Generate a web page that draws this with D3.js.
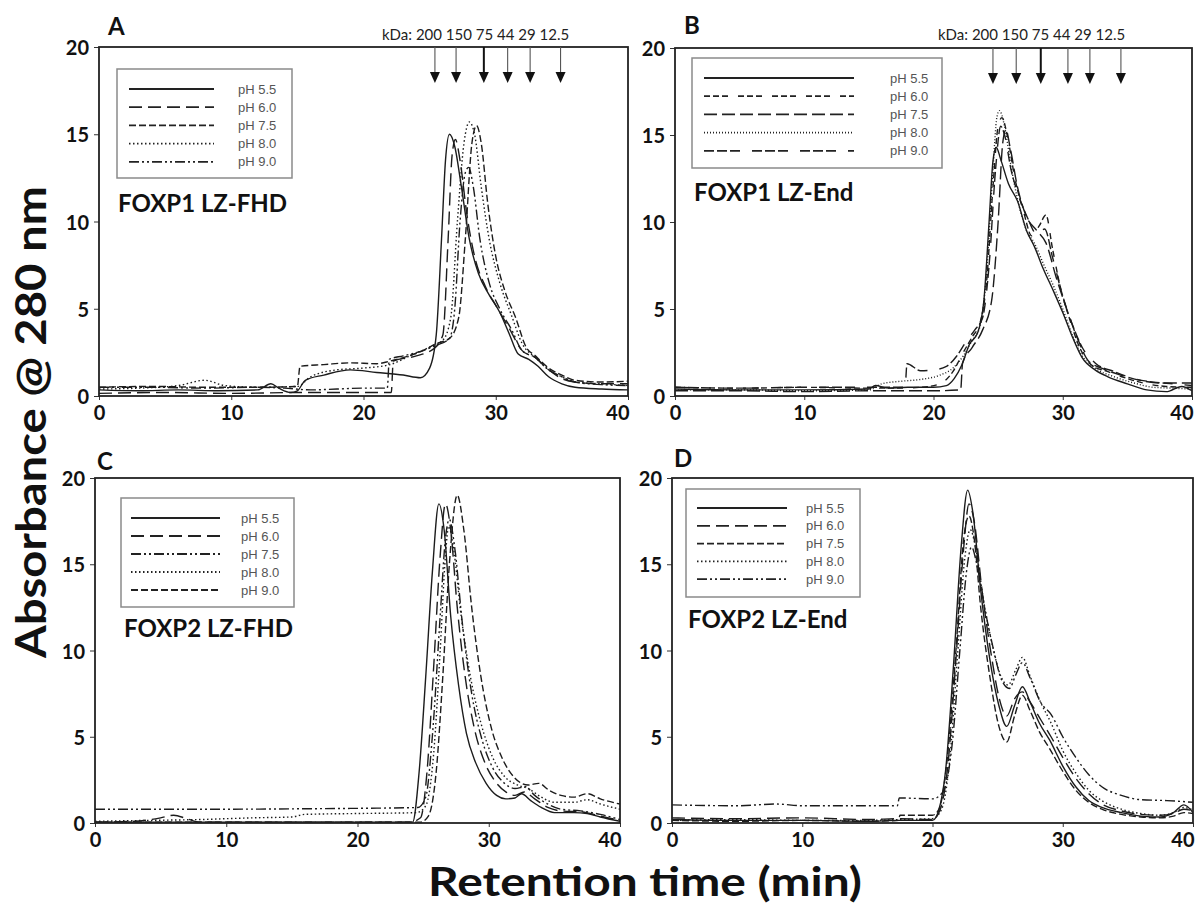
<!DOCTYPE html>
<html>
<head>
<meta charset="utf-8">
<script src="https://cdn.jsdelivr.net/npm/d3@7"></script>
<style>
  body { margin: 0; background: #fff; }
</style>
</head>
<body>
<div id="chart"></div>
<script>
// ---------- data ----------
const timeTicks = [0, 10, 20, 30, 40];
const absTicks = [0, 5, 10, 15, 20];
const phLabels = ["pH 5.5", "pH 6.0", "pH 7.5", "pH 8.0", "pH 9.0"];
const markerKDa = ["200", "150", "75", "44", "29", "12.5"];
const markerTimesA = [25.4, 27.0, 29.1, 30.9, 32.6, 34.9];
const markerTimesB = [24.6, 26.4, 28.3, 30.4, 32.1, 34.5];

// A: FOXP1 LZ-FHD  [time (min), A280]
const foxp1FhdPh55 = [[0,0.35],[3,0.3],[6,0.35],[9,0.3],[12,0.35],[13,0.7],[13.6,0.45],[14.5,0.2],[15,0.3],[15.6,0.9],[17,1.2],[19,1.5],[21,1.35],[23,1.2],[24.3,1.05],[25,1.6],[25.5,3.5],[25.9,9],[26.2,13.5],[26.5,15.0],[26.9,14.3],[27.4,12],[28,9],[28.7,7],[29.5,5.8],[30.3,4.8],[31,3.6],[31.7,2.4],[32.5,2.1],[33.2,1.7],[34,1.1],[35,0.7],[36,0.5],[38,0.4],[40,0.35]];
const foxp1FhdPh60 = [[0,0.15],[5,0.2],[10,0.15],[15,0.2],[20,0.2],[22.1,0.2],[22.25,2.0],[24,2.3],[25.3,2.7],[26.0,3.5],[26.4,9],[26.7,13.8],[26.95,14.7],[27.3,13.5],[27.8,10.5],[28.4,8],[29.2,6.3],[30,5.2],[31,3.9],[32,2.6],[33,2.2],[34,1.5],[35,1.0],[36,0.8],[38,0.7],[40,0.7]];
const foxp1FhdPh75 = [[0,0.5],[4,0.55],[8,0.5],[12,0.5],[15,0.55],[15.2,1.7],[17,1.8],[19,1.9],[21,1.85],[22,2.0],[23,2.2],[24.5,2.6],[25.5,3.0],[26.5,3.3],[27.2,4.5],[27.7,9],[28.2,14.5],[28.55,15.5],[28.9,14.5],[29.4,11],[30,8],[30.7,6],[31.5,4.5],[32.3,2.8],[33,2.3],[34,1.6],[35,1.2],[36,0.9],[38,0.8],[40,0.85]];
const foxp1FhdPh80 = [[0,0.4],[3,0.45],[6,0.6],[8,0.9],[9.5,0.6],[12,0.5],[15,0.55],[16,1.1],[18,1.5],[20,1.6],[22,1.8],[23.5,2.3],[25,2.8],[26,3.2],[26.6,4.5],[27.1,10],[27.6,14.5],[28,15.7],[28.4,15],[28.9,12],[29.5,9],[30.3,6.5],[31.2,4.6],[32,3.0],[33,2.2],[34,1.5],[35,1.1],[36,0.8],[38,0.7],[40,0.6]];
const foxp1FhdPh90 = [[0,0.5],[4,0.5],[8,0.45],[12,0.5],[14,0.45],[16,0.35],[18,0.4],[20,0.45],[21.8,0.45],[21.95,2.1],[23,2.3],[24.5,2.6],[25.5,2.9],[26.5,3.3],[26.9,5],[27.3,10],[27.7,12.8],[27.95,13.1],[28.3,12],[28.8,9],[29.5,6.5],[30.3,5],[31.2,3.8],[32,2.6],[33,2.2],[34,1.5],[35,1.1],[36,0.8],[38,0.65],[40,0.6]];

// B: FOXP1 LZ-End
const foxp1EndPh55 = [[0,0.4],[5,0.35],[10,0.35],[15,0.4],[15.5,0.6],[16.5,0.45],[18,0.5],[20,0.5],[21,0.6],[21.6,1.0],[22.2,1.8],[22.8,3.0],[23.4,3.6],[23.9,5.5],[24.3,10],[24.6,13.5],[24.85,14.3],[25.2,13.6],[25.8,12.2],[26.5,11.2],[27.2,9.5],[27.8,8.6],[28.5,7.3],[29.3,6],[30,4.8],[30.8,3.3],[31.5,2.2],[32.5,1.5],[33.5,1.1],[35,0.7],[36.5,0.35],[38,0.25],[39.2,0.55],[40,0.3]];
const foxp1EndPh60 = [[0,0.5],[5,0.45],[10,0.5],[15,0.45],[17,0.45],[19,0.5],[20.5,0.7],[21.5,1.4],[22.3,2.5],[23,3.4],[23.6,4.2],[24.1,6.5],[24.6,12],[25.0,15.5],[25.3,16.0],[25.7,15],[26.3,12.5],[27,10.5],[27.6,9.2],[28.2,9.8],[28.7,10.4],[29.2,8.5],[29.8,6.3],[30.5,4.5],[31.3,2.8],[32.2,1.8],[33.5,1.4],[35,1.0],[36.5,0.7],[38,0.55],[40,0.5]];
const foxp1EndPh75 = [[0,0.3],[5,0.3],[10,0.25],[15,0.3],[18,0.3],[20,0.3],[22.1,0.35],[22.25,1.9],[23,2.8],[23.8,3.8],[24.5,5.5],[25,10],[25.35,14.5],[25.6,15.3],[25.95,14.2],[26.5,12],[27.2,10.3],[28,9.5],[28.7,8.8],[29.5,6.8],[30.3,5],[31.2,3.2],[32,2.0],[33,1.6],[34.5,1.2],[36,0.9],[37.5,0.75],[40,0.75]];
const foxp1EndPh80 = [[0,0.35],[5,0.35],[10,0.3],[15,0.35],[16,0.7],[17.5,0.85],[19,0.95],[20.5,1.2],[21.5,1.6],[22.3,2.3],[23,3.2],[23.6,4.0],[24.1,7],[24.6,13],[24.9,16],[25.1,16.4],[25.5,15.5],[26,13.2],[26.6,11],[27.2,9.5],[27.8,8.8],[28.5,7.6],[29.3,6.3],[30,5],[30.8,3.4],[31.6,2.2],[32.5,1.6],[34,1.1],[35.5,0.75],[37,0.5],[38.5,0.45],[40,0.4]];
const foxp1EndPh90 = [[0,0.5],[5,0.45],[10,0.5],[15,0.5],[17.8,0.5],[17.95,1.85],[19,1.45],[20,1.5],[21,1.7],[21.8,2.3],[22.5,3.1],[23.2,3.8],[23.8,4.5],[24.3,7.5],[24.8,13],[25.2,15.5],[25.5,15],[26,13],[26.6,11.5],[27.3,10.2],[28,9.3],[28.6,9.6],[29.2,8],[29.9,6],[30.7,4.2],[31.5,2.8],[32.5,1.9],[34,1.4],[35.5,1.0],[37,0.8],[38.5,0.7],[40,0.6]];

// C: FOXP2 LZ-FHD
const foxp2FhdPh55 = [[0,0.05],[10,0.05],[20,0.05],[24.2,0.05],[24.7,3],[25.2,8.5],[25.7,14.5],[26.2,18.5],[26.6,17],[27.1,12],[27.7,8],[28.3,5.2],[29,3.5],[29.8,2.3],[30.6,1.6],[31.3,1.4],[32,1.45],[32.5,1.7],[33.2,1.3],[34,0.9],[35,0.6],[36.5,0.6],[37.5,0.55],[38.5,0.35],[40,0.1]];
const foxp2FhdPh60 = [[0,0.05],[3,0.1],[5,0.3],[6,0.45],[7,0.25],[8,0.05],[12,0.05],[18,0.05],[24,0.05],[24.8,0.3],[25.3,3],[25.8,9],[26.3,15.5],[26.7,18.5],[27.1,17],[27.6,12.5],[28.2,8.5],[28.9,5.5],[29.7,3.5],[30.5,2.4],[31.3,1.8],[32,1.6],[32.7,1.8],[33.5,1.4],[34.5,0.9],[35.5,0.7],[37,0.65],[38.5,0.4],[40,0.15]];
const foxp2FhdPh75 = [[0,0.8],[5,0.8],[10,0.8],[15,0.82],[20,0.85],[24.6,0.9],[25.2,1.5],[25.7,5],[26.3,12],[26.7,16.5],[27.0,17.6],[27.4,16],[28,11.5],[28.7,7.5],[29.5,4.8],[30.3,3.2],[31.2,2.3],[32,2.0],[32.8,2.1],[33.5,1.6],[34.5,1.1],[35.5,0.8],[37,0.7],[38.5,0.5],[40,0.2]];
const foxp2FhdPh80 = [[0,0.1],[4,0.15],[8,0.2],[12,0.3],[15,0.35],[16,0.5],[20,0.55],[24.5,0.6],[25.2,1.0],[25.8,4],[26.3,10],[26.7,15.5],[26.95,17.2],[27.3,16],[27.9,12],[28.6,8.5],[29.4,5.8],[30.3,3.8],[31.2,2.7],[32.2,2.2],[33,2.0],[34,1.5],[35,1.2],[36.5,1.2],[37.5,1.35],[38.5,1.1],[40,0.8]];
const foxp2FhdPh90 = [[0,0.05],[10,0.05],[20,0.05],[24.8,0.05],[25.4,0.4],[26,3],[26.5,8.5],[27,15],[27.6,19],[28.1,17],[28.7,12.5],[29.4,8.5],[30.2,5.5],[31,3.8],[32,2.6],[33,2.2],[33.8,2.3],[34.6,1.9],[35.5,1.6],[36.5,1.5],[37.5,1.7],[38.5,1.4],[40,1.1]];

// D: FOXP2 LZ-End
const foxp2EndPh55 = [[0,0.2],[5,0.15],[10,0.15],[15,0.1],[17.5,0.15],[20,0.15],[20.5,0.8],[21,3],[21.6,9],[22.2,16],[22.7,19.3],[23.1,18],[23.7,13.5],[24.4,9.5],[25.1,6.8],[25.7,5.6],[26.3,6.8],[26.9,7.9],[27.5,7],[28.2,5.8],[29,4.8],[30,3.3],[31,2.1],[32,1.3],[33,0.9],[34.5,0.6],[36,0.4],[37.5,0.35],[38.5,0.6],[39.3,1.05],[40,0.6]];
const foxp2EndPh60 = [[0,0.3],[5,0.25],[10,0.3],[15,0.2],[17.5,0.25],[20,0.2],[20.6,0.8],[21.2,3.5],[21.8,9.5],[22.4,16],[22.8,18.5],[23.2,17.5],[23.8,13.5],[24.5,9.8],[25.1,7.3],[25.7,6.2],[26.3,7.2],[26.9,7.6],[27.5,7],[28.3,6],[29.1,5],[30,3.8],[31,2.6],[32,1.7],[33,1.1],[34.5,0.7],[36,0.5],[37.5,0.45],[38.5,0.55],[39.3,0.8],[40,0.7]];
const foxp2EndPh75 = [[0,0.15],[5,0.1],[10,0.15],[15,0.1],[17.4,0.15],[17.5,0.45],[20,0.45],[20.5,0.8],[21.1,3.5],[21.8,10],[22.4,16.5],[22.8,17.8],[23.2,16.5],[23.7,12.5],[24.4,8.5],[25.1,5.6],[25.7,4.7],[26.3,6.2],[26.9,7.4],[27.5,6.5],[28.2,5.3],[29,4.3],[30,3],[31,1.9],[32,1.2],[33,0.8],[34.5,0.5],[36,0.35],[37.5,0.3],[38.5,0.4],[39.3,0.6],[40,0.55]];
const foxp2EndPh80 = [[0,0.15],[5,0.2],[10,0.15],[15,0.15],[17.5,0.2],[20,0.25],[20.7,0.8],[21.3,3.5],[21.9,9.5],[22.5,15.5],[22.9,17],[23.3,16],[23.9,13],[24.6,10.3],[25.2,8.6],[25.8,8.0],[26.4,8.9],[26.9,9.6],[27.5,8.5],[28.3,7],[29.1,5.8],[30,4.2],[31,2.9],[32,1.9],[33,1.3],[34.5,0.8],[36,0.55],[37.5,0.45],[38.5,0.6],[39.3,0.9],[40,0.75]];
const foxp2EndPh90 = [[0,1.05],[5,1.0],[8,1.1],[10,1.0],[15,1.0],[17.3,1.0],[17.45,1.45],[20,1.4],[20.8,1.8],[21.5,4.5],[22.1,10],[22.6,14.5],[23.0,16],[23.4,15],[24,12.5],[24.7,10],[25.3,8.3],[25.9,7.8],[26.4,8.6],[26.9,9.3],[27.5,8.4],[28.3,7],[29.1,6.3],[30,5],[31,3.8],[32,2.8],[33,2.1],[34.5,1.6],[36,1.35],[38,1.3],[40,1.2]];

// ---------- line styles ----------
const SOLID = null;
const LONG_DASH = "13,6";
const MED_DASH = "7,3";
const DOTTED = "1.5,2.5";
const DASH_DOT_DOT = "10,3,2,3,2,3";
const GROUP_SHORT = "6,3,6,3,6,10";
const LONG_DASH_B = "13,5";
const FINE_DOT = "1,2";
const GROUP_LONG = "10,3,10,3,10,12";

const panels = [
  { key: "A", left: 99, right: 628, top: 47, bottom: 396, name: "FOXP1 LZ-FHD",
    series: [foxp1FhdPh55, foxp1FhdPh60, foxp1FhdPh75, foxp1FhdPh80, foxp1FhdPh90],
    dashes: [SOLID, LONG_DASH, MED_DASH, DOTTED, DASH_DOT_DOT],
    legend: { x: 117, y: 69, w: 175, h: 109, l1: 129, l2: 214, tx: 238, r0: 89, dr: 18.2 },
    namePos: [118, 212], letterPos: [108, 35],
    markers: markerTimesA, kdaPos: [382, 40] },
  { key: "B", left: 675, right: 1192, top: 48, bottom: 396, name: "FOXP1 LZ-End",
    series: [foxp1EndPh55, foxp1EndPh60, foxp1EndPh75, foxp1EndPh80, foxp1EndPh90],
    dashes: [SOLID, GROUP_SHORT, LONG_DASH_B, FINE_DOT, GROUP_LONG],
    legend: { x: 692, y: 58, w: 250, h: 110, l1: 704, l2: 854, tx: 890, r0: 78, dr: 18.2 },
    namePos: [694, 201], letterPos: [684, 34],
    markers: markerTimesB, kdaPos: [938, 40] },
  { key: "C", left: 95, right: 620, top: 478, bottom: 823, name: "FOXP2 LZ-FHD",
    series: [foxp2FhdPh55, foxp2FhdPh60, foxp2FhdPh75, foxp2FhdPh80, foxp2FhdPh90],
    dashes: [SOLID, LONG_DASH, DASH_DOT_DOT, DOTTED, MED_DASH],
    legend: { x: 121, y: 498, w: 173, h: 109, l1: 131, l2: 220, tx: 241, r0: 518, dr: 18 },
    namePos: [124, 637], letterPos: [97, 470],
    markers: null },
  { key: "D", left: 672, right: 1193, top: 478, bottom: 823, name: "FOXP2 LZ-End",
    series: [foxp2EndPh55, foxp2EndPh60, foxp2EndPh75, foxp2EndPh80, foxp2EndPh90],
    dashes: [SOLID, LONG_DASH, MED_DASH, DOTTED, DASH_DOT_DOT],
    legend: { x: 686, y: 489, w: 174, h: 108, l1: 697, l2: 787, tx: 806, r0: 508, dr: 17.8 },
    namePos: [688, 628], letterPos: [674, 467],
    markers: null }
];

// ---------- drawing ----------
const W = 1200, H = 904;
const BOLD = "Lato, 'Open Sans', sans-serif";
const svg = d3.select("#chart").append("svg")
  .attr("width", W).attr("height", H)
  .attr("xmlns", "http://www.w3.org/2000/svg");
svg.append("rect").attr("width", W).attr("height", H).attr("fill", "#fff");
const defs = svg.append("defs");

function drawPanel(p) {
  const x = d3.scaleLinear().domain([0, 40]).range([p.left, p.right]);
  const y = d3.scaleLinear().domain([0, 20]).range([p.bottom, p.top]);
  const g = svg.append("g");

  const clipId = "clip-" + p.key;
  defs.append("clipPath").attr("id", clipId).append("rect")
    .attr("x", p.left).attr("y", p.top)
    .attr("width", p.right - p.left).attr("height", p.bottom - p.top);

  // axes
  const yAxis = g.append("g").attr("transform", `translate(${p.left},0)`)
    .call(d3.axisLeft(y).tickValues(absTicks).tickSize(5).tickPadding(5));
  const xAxis = g.append("g").attr("transform", `translate(0,${p.bottom})`)
    .call(d3.axisBottom(x).tickValues(timeTicks).tickSize(4).tickPadding(6));
  [yAxis, xAxis].forEach(a => {
    a.select(".domain").remove();
    a.selectAll("line").attr("stroke", "#333").attr("stroke-width", 1);
    a.selectAll("text")
      .attr("fill", "#111")
      .style("font-family", BOLD)
      .style("font-size", "20px")
      .style("font-weight", "bold");
  });
  yAxis.selectAll("text").attr("dy", "0.38em");
  // last time label sits flush with the right edge of the frame
  xAxis.selectAll(".tick text")
    .filter(d => d === 40)
    .attr("text-anchor", "end")
    .attr("x", 1);

  // curves
  const line = d3.line()
    .x(d => x(d[0]))
    .y(d => y(d[1]))
    .curve(d3.curveMonotoneX);
  const lines = g.append("g").attr("clip-path", `url(#${clipId})`);
  p.series.forEach((s, i) => {
    lines.append("path")
      .datum(s)
      .attr("d", line)
      .attr("fill", "none")
      .attr("stroke", "#1c1c1c")
      .attr("stroke-width", 1.4)
      .attr("stroke-dasharray", p.dashes[i]);
  });

  // frame
  g.append("rect")
    .attr("x", p.left).attr("y", p.top)
    .attr("width", p.right - p.left).attr("height", p.bottom - p.top)
    .attr("fill", "none").attr("stroke", "#222").attr("stroke-width", 1.8);

  // legend
  const L = p.legend;
  const lg = g.append("g");
  lg.append("rect")
    .attr("x", L.x).attr("y", L.y).attr("width", L.w).attr("height", L.h)
    .attr("fill", "#fff").attr("stroke", "#8a8a8a").attr("stroke-width", 1.5);
  phLabels.forEach((lab, i) => {
    const yy = L.r0 + i * L.dr;
    lg.append("line")
      .attr("x1", L.l1).attr("x2", L.l2).attr("y1", yy).attr("y2", yy)
      .attr("stroke", "#222").attr("stroke-width", 1.8)
      .attr("stroke-dasharray", p.dashes[i]);
    lg.append("text")
      .attr("x", L.tx).attr("y", yy).attr("dy", "0.35em")
      .attr("fill", "#555")
      .style("font-family", "'Liberation Sans', Arial, sans-serif")
      .style("font-size", "13px")
      .text(lab);
  });

  // sample name and panel letter
  g.append("text")
    .attr("x", p.namePos[0]).attr("y", p.namePos[1])
    .attr("fill", "#111")
    .style("font-family", BOLD).style("font-size", "24px").style("font-weight", "bold")
    .text(p.name);
  g.append("text")
    .attr("x", p.letterPos[0]).attr("y", p.letterPos[1])
    .attr("fill", "#111")
    .style("font-family", BOLD).style("font-size", "24px").style("font-weight", "bold")
    .text(p.key);

  // size-standard markers
  if (p.markers) {
    g.append("text")
      .attr("x", p.kdaPos[0]).attr("y", p.kdaPos[1])
      .attr("fill", "#222")
      .style("font-family", "Lato, sans-serif").style("font-size", "15px")
      .text("kDa: " + markerKDa.join(" "));
    p.markers.forEach((t, i) => {
      const mx = x(t);
      const heavy = markerKDa[i] === "75";
      g.append("line")
        .attr("x1", mx).attr("x2", mx).attr("y1", p.top).attr("y2", p.top + 27)
        .attr("stroke", heavy ? "#111" : "#555").attr("stroke-width", heavy ? 2 : 1.1);
      g.append("path")
        .attr("d", `M${mx - 5},${p.top + 25} L${mx + 5},${p.top + 25} L${mx},${p.top + 36} Z`)
        .attr("fill", "#111");
    });
  }
}

panels.forEach(drawPanel);

// shared axis titles
svg.append("text")
  .attr("transform", "translate(46,422) rotate(-90)")
  .attr("text-anchor", "middle")
  .attr("fill", "#111")
  .attr("textLength", 472).attr("lengthAdjust", "spacingAndGlyphs")
  .style("font-family", BOLD).style("font-size", "42px").style("font-weight", "bold")
  .text("Absorbance @ 280 nm");
svg.append("text")
  .attr("x", 645).attr("y", 896)
  .attr("text-anchor", "middle")
  .attr("fill", "#111")
  .attr("textLength", 434).attr("lengthAdjust", "spacingAndGlyphs")
  .style("font-family", BOLD).style("font-size", "40px").style("font-weight", "bold")
  .text("Retention time (min)");
</script>
</body>
</html>
